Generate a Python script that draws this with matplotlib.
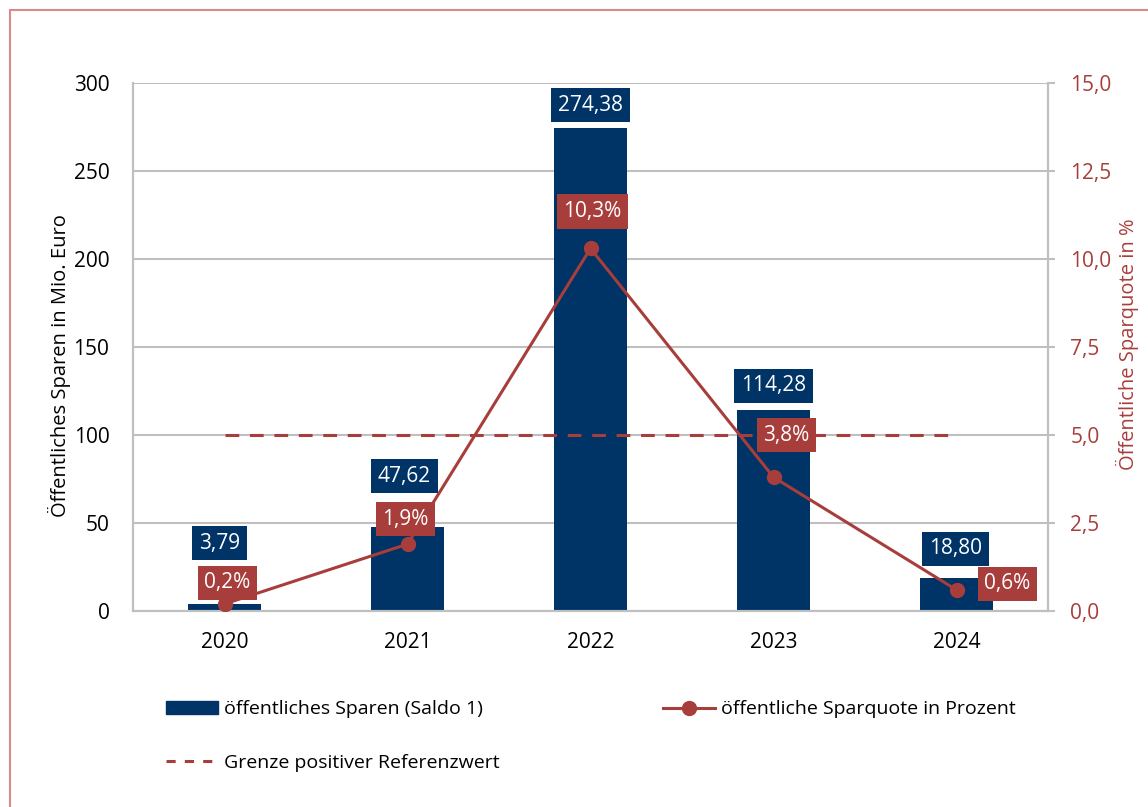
import matplotlib
matplotlib.use("Agg")
from matplotlib import pyplot as plt
from matplotlib.lines import Line2D
from matplotlib.patches import Patch, Rectangle
import numpy as np

years = ["2020", "2021", "2022", "2023", "2024"]
sparen = [3.79, 47.62, 274.38, 114.28, 18.80]
quote = [0.2, 1.9, 10.3, 3.8, 0.6]
referenz = [5.0, 5.0, 5.0, 5.0, 5.0]

navy = "#003366"
red = "#A83E3C"
grey = "#BFBFBF"

plt.rcParams["font.family"] = ["Open Sans", "DejaVu Sans"]
fs = 15

fig = plt.figure(figsize=(11.48, 8.07), dpi=100)
ax = fig.add_axes([133 / 1148, 1 - 611 / 807, 915 / 1148, 528 / 807])
ax2 = ax.twinx()

x = np.arange(len(years))
ax.bar(x, sparen, width=0.4, color=navy, zorder=2)
ax.set_xlim(-0.5, 4.5)
ax.set_ylim(0, 300)
ax.set_yticks(np.arange(0, 301, 50))
ax.yaxis.grid(True, color=grey, linewidth=1.5, zorder=0)
ax.set_axisbelow(True)
ax.set_xticks(x)
ax.set_xticklabels(years, fontsize=fs)
ax.tick_params(axis="x", length=0, pad=15)
ax.tick_params(axis="y", length=0, pad=17, labelsize=fs)
ax.set_ylabel("Öffentliches Sparen in Mio. Euro", fontsize=fs - 0.5)
ax.yaxis.set_label_coords(-0.068, 0.465)

ax2.plot(x, quote, color=red, linewidth=2.2, marker="o", markersize=10, zorder=3)
ax2.plot(x, referenz, color=red, linewidth=2.2, dashes=(4.5, 3.5), zorder=2)
ax2.set_ylim(0, 15)
ax2.set_yticks(np.arange(0, 15.1, 2.5))
ax2.set_yticklabels([f"{v:.1f}".replace(".", ",") for v in np.arange(0, 15.1, 2.5)])
ax2.tick_params(axis="y", length=5, color=grey, width=1.5, pad=11, labelsize=fs, labelcolor=red)
ax2.set_ylabel("Öffentliche Sparquote in %", fontsize=fs - 0.5, color=red, rotation=90)
ax2.yaxis.set_label_coords(1.074, 0.505)

for a in (ax, ax2):
    a.spines["top"].set_visible(False)
    for s in ("left", "right", "bottom"):
        a.spines[s].set_color(grey)
        a.spines[s].set_linewidth(1.5)

# value labels
bar_off = [(-5, 61), (-3, 51), (0, 23), (0, 24), (-1, 29)]
for xi, v, off in zip(x, sparen, bar_off):
    ax.annotate(f"{v:.2f}".replace(".", ","), (xi, v), xytext=off,
                textcoords="offset pixels", ha="center", va="center",
                color="white", fontsize=fs, zorder=5,
                bbox=dict(boxstyle="square,pad=0.32", fc=navy, ec="none"))

line_off = [(3, 21), (-2, 25), (2, 37), (13, 42), (51, 6)]
for xi, v, off in zip(x, quote, line_off):
    ax2.annotate(f"{v:.1f}%".replace(".", ","), (xi, v), xytext=off,
                 textcoords="offset pixels", ha="center", va="center",
                 color="white", fontsize=fs, zorder=6,
                 bbox=dict(boxstyle="square,pad=0.32", fc=red, ec="none"))

# legends
lfs = 14
h_bar = Patch(color=navy)
h_ref = Line2D([], [], color=red, linewidth=2.2, dashes=(3, 3))
h_line = Line2D([], [], color=red, linewidth=2.2, marker="o", markersize=10)
fig.legend([h_bar, h_ref], ["öffentliches Sparen (Saldo 1)", "Grenze positiver Referenzwert"],
           loc="upper left", bbox_to_anchor=(148 / 1148, 1 - 683 / 807), frameon=False,
           fontsize=lfs, handlelength=2.7, handleheight=0.6, handletextpad=0.3, labelspacing=1.8)
fig.legend([h_line], ["öffentliche Sparquote in Prozent"],
           loc="upper left", bbox_to_anchor=(645 / 1148, 1 - 683 / 807), frameon=False,
           fontsize=lfs, handlelength=2.7, handletextpad=0.3)

fig.patches.append(Rectangle((10 / 1148, -0.1), 1.2, 1 - 10 / 807 + 0.1,
                             transform=fig.transFigure, fill=False,
                             edgecolor="#D98A8A", linewidth=1.5))

fig.savefig("out.png", dpi=100)
